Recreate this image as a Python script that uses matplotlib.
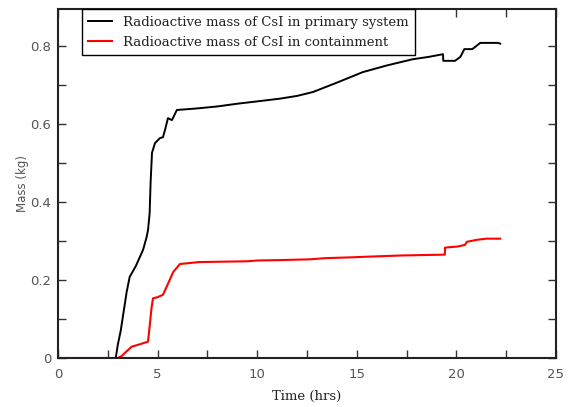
import matplotlib
matplotlib.use("Agg")
import matplotlib.pyplot as plt
from matplotlib.ticker import MultipleLocator

# time (hrs) / mass (kg)
t_primary = [0.0, 2.9, 3.0, 3.15, 3.3, 3.45, 3.6, 3.9, 4.27, 4.45, 4.52, 4.6,
             4.65, 4.72, 4.87, 5.12, 5.27, 5.4, 5.52, 5.72, 5.97, 6.5, 7.0,
             8.0, 9.0, 10.0, 11.14, 12.0, 12.8, 14.0, 15.3, 16.5, 17.8, 18.6,
             19.33, 19.34, 19.93, 20.2, 20.4, 20.8, 21.2, 22.1, 22.2]
m_primary = [0.0, 0.0, 0.033, 0.07, 0.12, 0.17, 0.208, 0.235, 0.277, 0.31, 0.328,
             0.37, 0.45, 0.526, 0.551, 0.564, 0.566, 0.59, 0.615, 0.61, 0.636,
             0.638, 0.64, 0.645, 0.652, 0.658, 0.665, 0.672, 0.682, 0.706, 0.733,
             0.75, 0.766, 0.772, 0.779, 0.762, 0.762, 0.772, 0.792, 0.792, 0.808,
             0.808, 0.806]

t_cont = [0.0, 3.0, 3.2, 3.4, 3.7, 4.1, 4.52, 4.6, 4.7, 4.77, 5.0, 5.27, 5.52,
          5.78, 6.12, 7.1, 9.5, 10.0, 11.1, 12.65, 13.4, 14.66, 15.66, 17.3,
          19.42, 19.43, 20.08, 20.43, 20.53, 21.03, 21.5, 22.2]
m_cont = [0.0, 0.0, 0.005, 0.015, 0.029, 0.035, 0.042, 0.08, 0.13, 0.153, 0.156,
          0.162, 0.19, 0.22, 0.241, 0.246, 0.248, 0.25, 0.251, 0.253, 0.256,
          0.258, 0.26, 0.263, 0.265, 0.283, 0.286, 0.29, 0.298, 0.303, 0.306,
          0.306]

labels = ["Radioactive mass of CsI in primary system",
          "Radioactive mass of CsI in containment"]

fig = plt.figure(figsize=(5.74, 4.07), dpi=100)
ax = fig.add_axes([0.101, 0.1204, 0.8676, 0.8576])

ax.plot(t_primary, m_primary, color="black", lw=1.4, label=labels[0])
ax.plot(t_cont, m_cont, color="red", lw=1.5, label=labels[1])

ax.set_xlim(0, 25)
ax.set_ylim(0, 0.895)
ax.xaxis.set_minor_locator(MultipleLocator(2.5))
ax.yaxis.set_minor_locator(MultipleLocator(0.1))
ax.set_yticks([0, 0.2, 0.4, 0.6, 0.8], ["0", "0.2", "0.4", "0.6", "0.8"])
ax.set_xticks([0, 5, 10, 15, 20, 25], ["0", "5", "10", "15", "20", "25"])

ax.tick_params(which="both", direction="in", top=True, right=True,
               colors="#333333", labelcolor="#555555", labelsize=9.5, width=1)
ax.tick_params(which="both", length=6)
ax.tick_params(axis="x", pad=7)
ax.tick_params(axis="y", pad=5)
for s in ax.spines.values():
    s.set_linewidth(1.5)
    s.set_color("#222222")

ax.set_xlabel("Time (hrs)", family="DejaVu Serif", fontsize=9.5, color="#222222",
              labelpad=7)
ax.set_ylabel("Mass (kg)", fontsize=8.5, color="#555555", labelpad=0.5)

leg = ax.legend(loc="upper left", bbox_to_anchor=(0.048, 1.0), borderaxespad=0,
                prop={"family": "DejaVu Serif", "size": 9.5}, fancybox=False,
                framealpha=1, handlelength=1.8, borderpad=0.5, labelspacing=0.55)
leg.get_frame().set_edgecolor("black")
leg.get_frame().set_linewidth(1)
for txt in leg.get_texts():
    txt.set_color("#222222")

fig.savefig("out.png", dpi=100)
